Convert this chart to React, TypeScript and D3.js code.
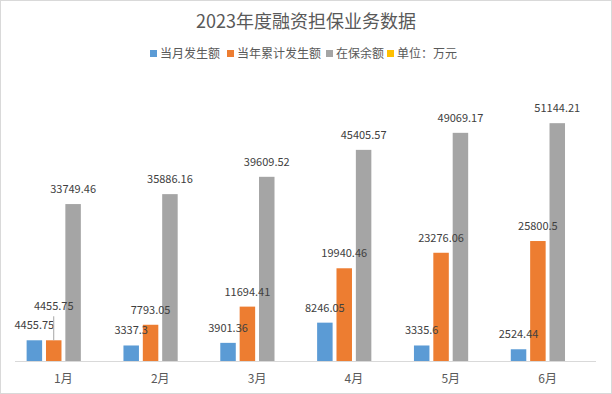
import * as d3 from "d3";
import React, { useEffect, useRef } from 'react'

const months = ['1月', '2月', '3月', '4月', '5月', '6月']
const seriesNames = ['当月发生额', '当年累计发生额', '在保余额', '单位：万元']
const monthly = [4455.75, 3337.3, 3901.36, 8246.05, 3335.6, 2524.44]
const cumulative = [4455.75, 7793.05, 11694.41, 19940.46, 23276.06, 25800.5]
const balance = [33749.46, 35886.16, 39609.52, 45405.57, 49069.17, 51144.21]
const unit = [null, null, null, null, null, null] as (number | null)[]
const colors = ['#5B9BD5', '#ED7D31', '#A5A5A5', '#FFC000']

const W = 612
const H = 394
const font = '"Noto Sans CJK SC", "Microsoft YaHei", sans-serif'

const drawChart = (el: SVGSVGElement) => {
  const svg = d3.select(el)
  svg.selectAll('*').remove()

  svg.append('rect')
    .attr('x', 0.5).attr('y', 0.5)
    .attr('width', W - 1).attr('height', H - 1)
    .attr('fill', '#fff')
    .attr('stroke', '#d9d9d9')

  svg.append('text')
    .attr('x', W / 2).attr('y', 28)
    .attr('text-anchor', 'middle')
    .attr('font-family', font)
    .attr('font-size', 18)
    .attr('fill', '#595959')
    .text('2023年度融资担保业务数据')

  // legend
  const legendX = [150, 227, 326, 387]
  const legend = svg.append('g')
  seriesNames.forEach((name, i) => {
    const g = legend.append('g').attr('transform', `translate(${legendX[i]},0)`)
    g.append('rect').attr('x', 0).attr('y', 50).attr('width', 7).attr('height', 7).attr('fill', colors[i])
    g.append('text')
      .attr('x', 10).attr('y', 57.5)
      .attr('font-family', font)
      .attr('font-size', 12)
      .attr('fill', '#595959')
      .text(name)
  })

  const series = [monthly, cumulative, balance, unit]
  const baseY = 361

  const x0 = d3.scaleBand().domain(months).range([15, 596]).padding(0)
  const bw = x0.bandwidth()
  const outer = bw * 0.12
  const x1 = d3.scaleBand().domain(seriesNames).range([outer, bw - outer]).paddingInner(0.2)
  const y = d3.scaleLinear().domain([0, 60000]).range([baseY, 82])

  const groups = svg.selectAll('g.cat')
    .data(months)
    .enter()
    .append('g')
    .attr('class', 'cat')
    .attr('transform', (d) => `translate(${x0(d)},0)`)

  series.forEach((vals, si) => {
    groups.append('rect')
      .attr('x', () => x1(seriesNames[si])!)
      .attr('y', (_d, i) => y(vals[i] ?? 0))
      .attr('width', x1.bandwidth())
      .attr('height', (_d, i) => baseY - y(vals[i] ?? 0))
      .attr('fill', colors[si])
  })

  // axis line
  svg.append('line')
    .attr('x1', 15).attr('x2', 596)
    .attr('y1', baseY + 0.5).attr('y2', baseY + 0.5)
    .attr('stroke', '#d9d9d9')

  // data labels
  series.forEach((vals, si) => {
    if (si === 3) return
    groups.each(function (_d, i) {
      const v = vals[i]
      if (v == null) return
      const cx = x1(seriesNames[si])! + x1.bandwidth() / 2
      const top = y(v)
      // the 1月 cumulative label was lifted to avoid overlap, with a leader line
      const lifted = si === 1 && i === 0
      const ty = lifted ? top - 30 : top - 11
      if (lifted) {
        d3.select(this).append('line')
          .attr('x1', cx).attr('x2', cx)
          .attr('y1', top).attr('y2', ty + 6)
          .attr('stroke', '#a6a6a6')
      }
      d3.select(this).append('text')
        .attr('x', cx).attr('y', ty)
        .attr('text-anchor', 'middle')
        .attr('font-family', font)
        .attr('font-size', 11)
        .attr('fill', '#404040')
        .text(String(v))
    })
  }
  )

  // category labels
  svg.selectAll('text.xl')
    .data(months)
    .enter()
    .append('text')
    .attr('class', 'xl')
    .attr('x', (d) => x0(d)! + bw / 2)
    .attr('y', 383)
    .attr('text-anchor', 'middle')
    .attr('font-family', font)
    .attr('font-size', 12)
    .attr('fill', '#595959')
    .text((d) => d)
}

export default function App() {
  const ref = useRef<SVGSVGElement>(null)
  useEffect(() => {
    if (ref.current) drawChart(ref.current)
  })
  return (
    <svg ref={ref} width={W} height={H}
      style={{ position: 'absolute', left: 0, top: 0, display: 'block' }} />
  )
}
